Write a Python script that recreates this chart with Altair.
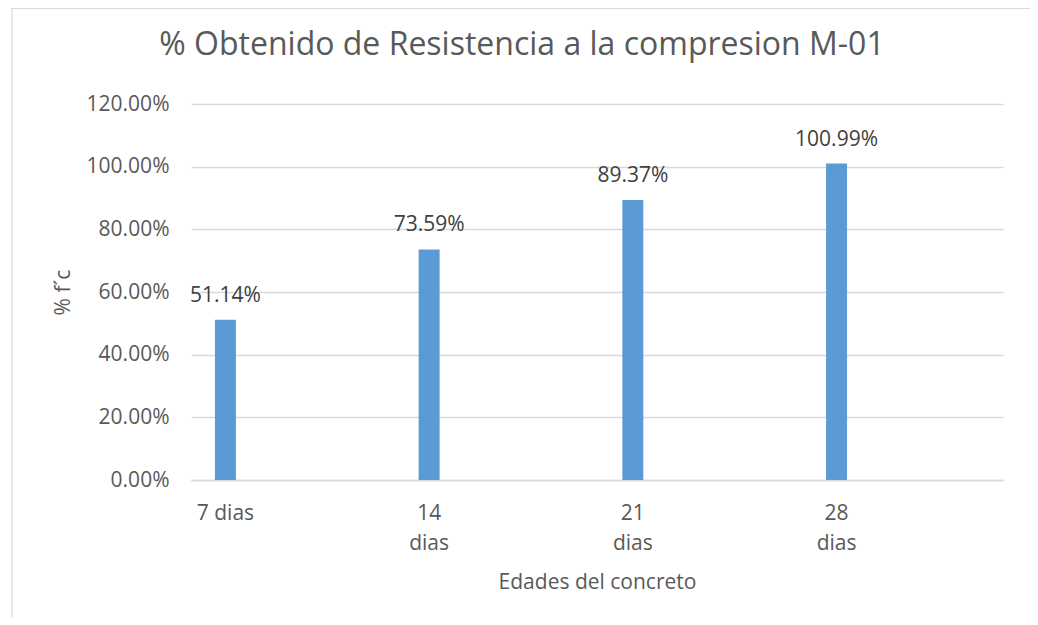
import altair as alt
import pandas as pd

categories = ["7 dias", "14 dias", "21 dias", "28 dias"]
values = [0.5114, 0.7359, 0.8937, 1.0099]
y_ticks = [0.0, 0.2, 0.4, 0.6, 0.8, 1.0, 1.2]

df = pd.DataFrame({"edad": categories, "pct": values})

FONT = "Open Sans"
TXT = "#595959"
FS = 21

x_enc = alt.X(
    "edad:N",
    sort=categories,
    scale=alt.Scale(paddingInner=0.897, paddingOuter=0.4415, align=0.133),
    axis=alt.Axis(
        title="Edades del concreto",
        labelAngle=0,
        labelExpr="datum.label == '7 dias' ? datum.label : split(datum.label, ' ')",
        labelFontSize=FS,
        labelColor=TXT,
        labelFont=FONT,
        labelPadding=22,
        labelLineHeight=30,
        labelBaseline="top",
        ticks=False,
        grid=False,
        domainColor="#D9D9D9",
        domainWidth=1.5,
        titleFontSize=FS,
        titleFont=FONT,
        titleFontWeight="normal",
        titleColor=TXT,
        titleBaseline="alphabetic",
        titleY=108,
    ),
)

y_enc = alt.Y(
    "pct:Q",
    scale=alt.Scale(domain=[0, 1.2], nice=False),
    axis=alt.Axis(
        title="% f´c",
        values=y_ticks,
        format=".2%",
        labelFontSize=FS,
        labelColor=TXT,
        labelFont=FONT,
        labelPadding=22,
        ticks=False,
        domain=False,
        gridColor="#D9D9D9",
        gridWidth=1.3,
        titleFontSize=FS,
        titleFont=FONT,
        titleFontWeight="normal",
        titleColor=TXT,
        titleBaseline="alphabetic",
        titleX=-122,
    ),
)

base = alt.Chart(df)

bars = base.mark_bar(color="#5B9BD5").encode(x=x_enc, y=y_enc)

labels = base.mark_text(
    dy=-18, baseline="alphabetic", fontSize=FS, font=FONT, color="#404040"
).encode(x=alt.X("edad:N", sort=categories), y="pct:Q", text=alt.Text("pct:Q", format=".2%"))

border = alt.Chart(pd.DataFrame({"a": [0]})).mark_rect(
    fill=None, stroke="#D9D9D9", strokeWidth=1.2, clip=False
).encode(
    x=alt.value(-179), x2=alt.value(840), y=alt.value(-95.5), y2=alt.value(560)
)

chart = (
    alt.layer(border, bars, labels)
    .properties(
        width=812,
        height=376,
        view=alt.ViewBackground(strokeOpacity=0, strokeWidth=0),
        autosize=alt.AutoSizeParams(type="none"),
        padding={"left": 183, "top": 96, "right": 27, "bottom": 137},
        title=alt.TitleParams(
            text="% Obtenido de Resistencia a la compresion M-01",
            font=FONT,
            fontSize=32,
            fontWeight="normal",
            color=TXT,
            anchor="middle",
            baseline="bottom",
            offset=-86,
            dx=-75,
        ),
    )
    .configure_view(stroke="transparent", strokeWidth=0, strokeOpacity=0)
    .configure(background="white")
)

chart.save("out.html", embed_options={"renderer": "svg", "actions": False})
